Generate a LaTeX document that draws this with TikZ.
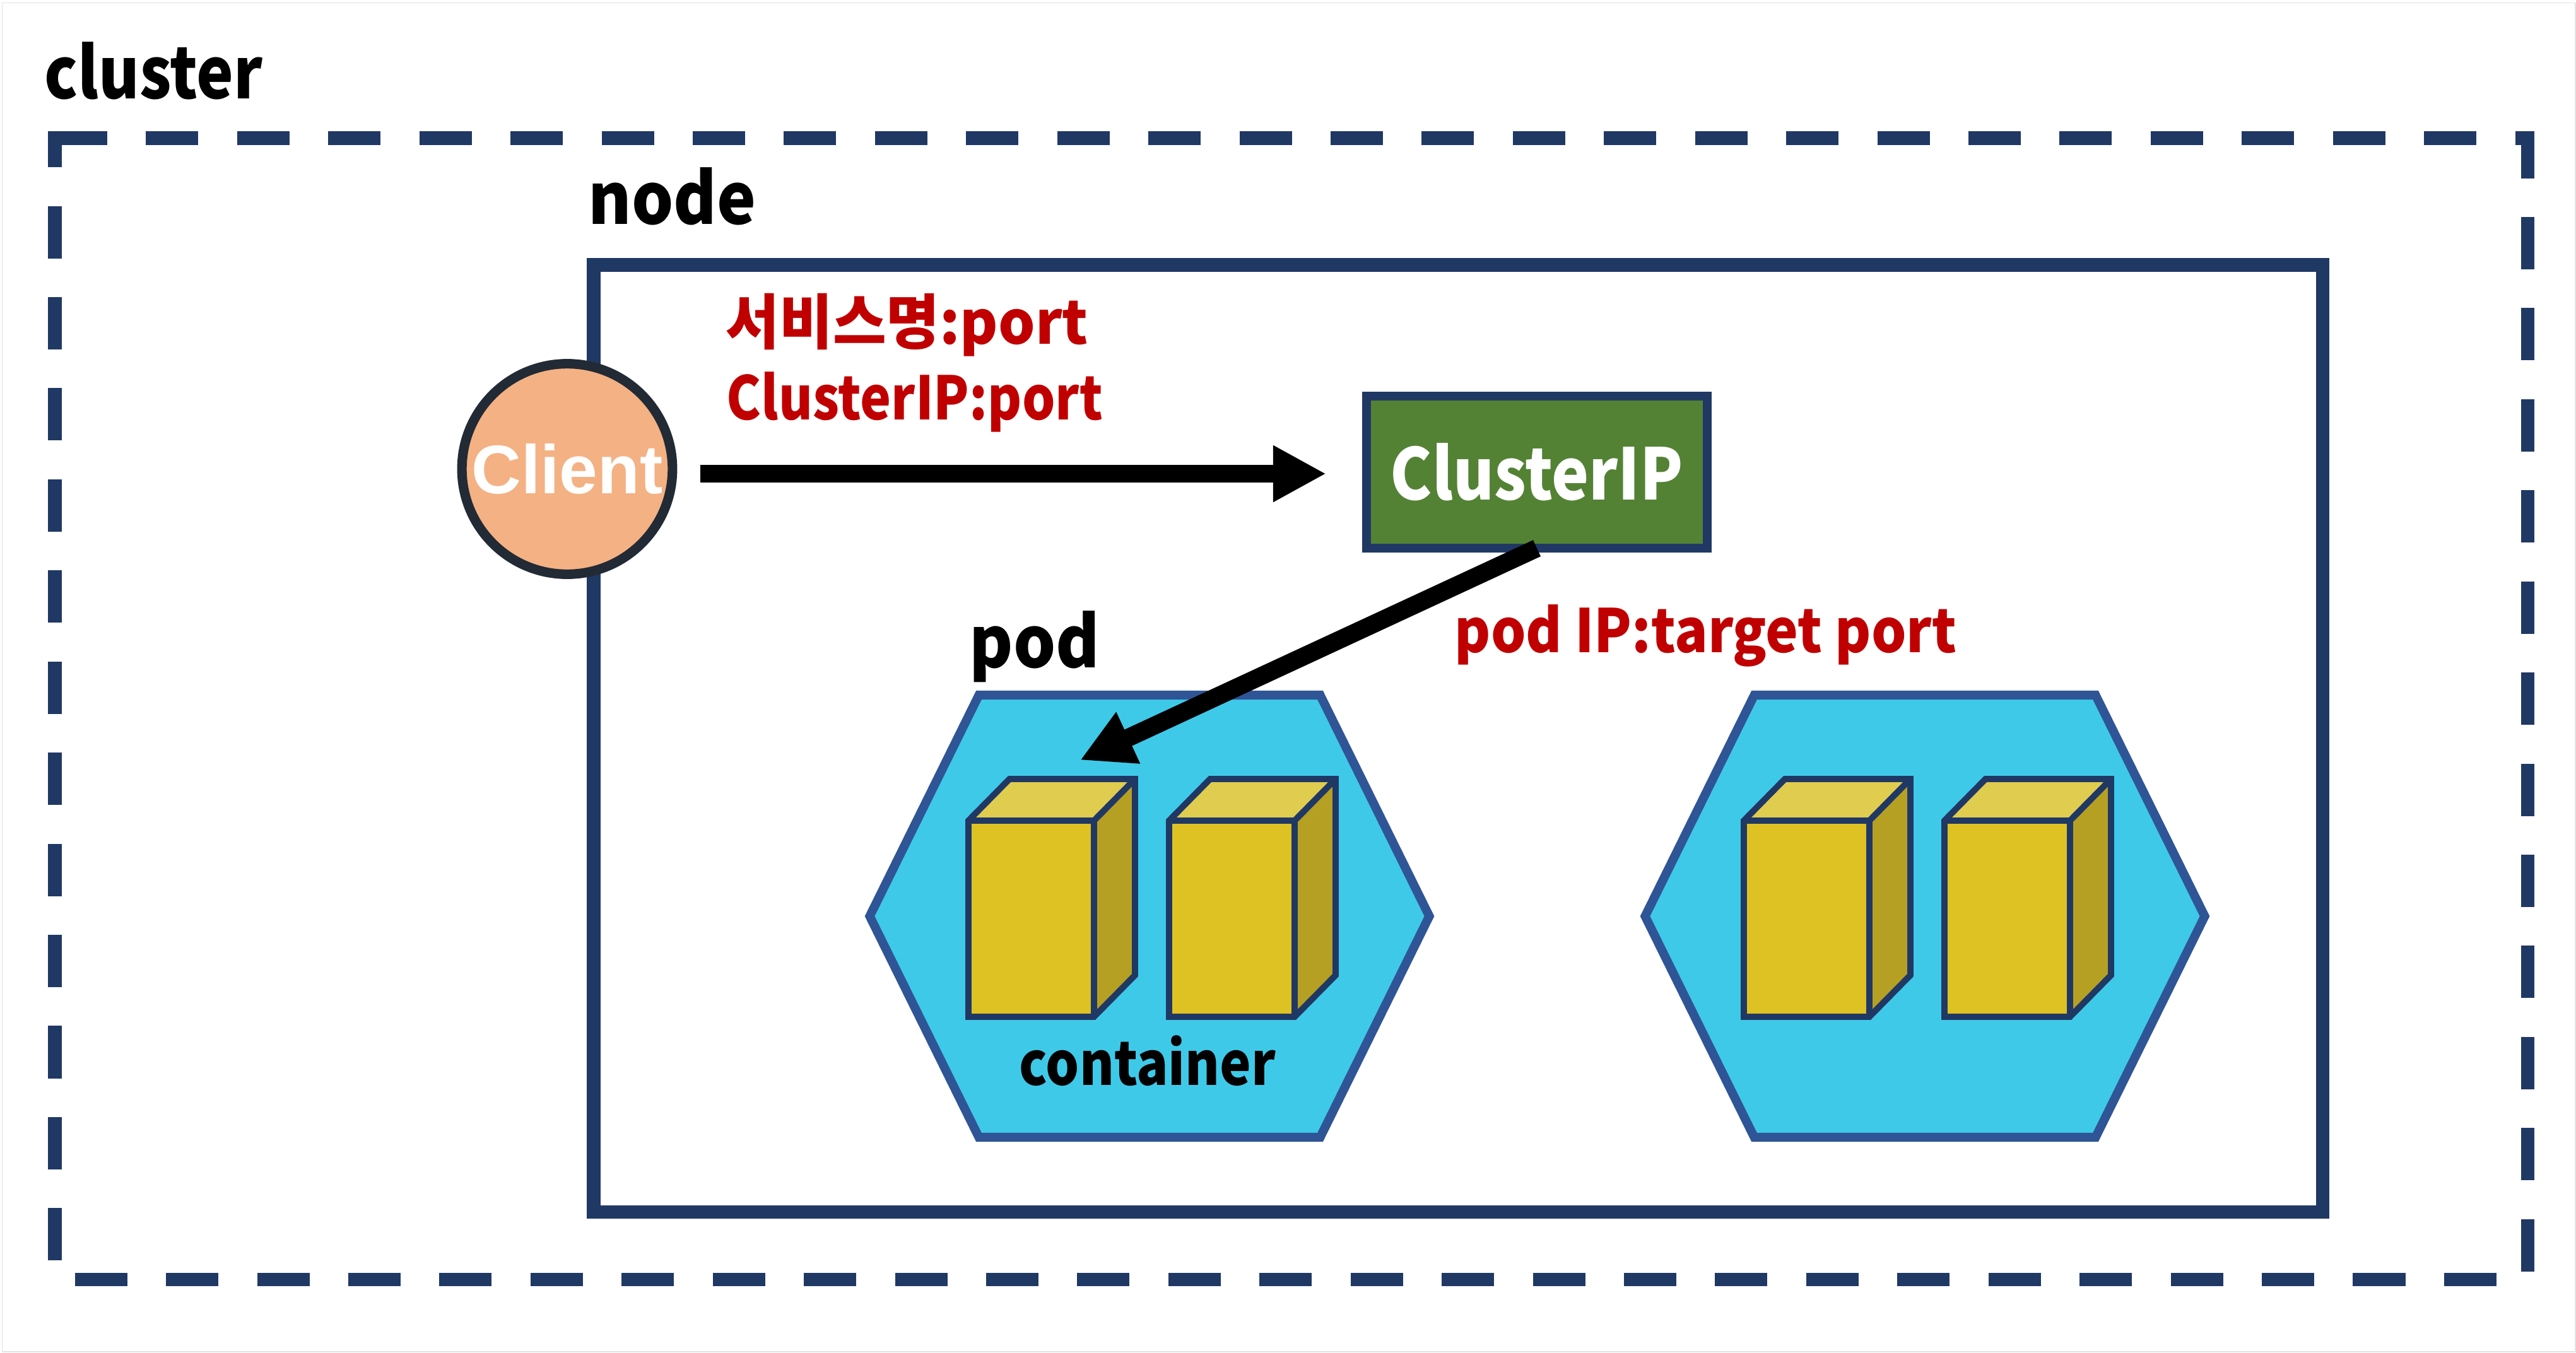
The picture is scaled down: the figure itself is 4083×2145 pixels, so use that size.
\documentclass[tikz,border=0pt]{standalone}
\usepackage{fontspec}
\setmainfont{Noto Sans CJK KR}
\newfontfamily\clientfont{Liberation Sans}
\usetikzlibrary{arrows.meta}

\definecolor{navyline}{HTML}{203864}
\definecolor{podline}{HTML}{2F5597}
\definecolor{podfill}{HTML}{3FC9E8}
\definecolor{boxfront}{HTML}{DEC123}
\definecolor{boxtop}{HTML}{E0CC4F}
\definecolor{boxside}{HTML}{B5A024}
\definecolor{redtext}{HTML}{C00000}
\definecolor{clientfill}{HTML}{F4B183}
\definecolor{clientline}{HTML}{222A35}
\definecolor{ipfill}{HTML}{548235}

\tikzset{
  bigtext/.style={anchor=base west,inner sep=0pt,font=\bfseries\fontsize{32}{36}\selectfont\addfontfeature{FakeStretch=#1}},
  midtext/.style={anchor=base west,inner sep=0pt,font=\bfseries\fontsize{27}{31}\selectfont\addfontfeature{FakeStretch=#1}},
  redlabel/.style={midtext=#1,text=redtext},
  flow/.style={line width=8.1pt,-{Triangle[length=23.9pt,width=23.9pt]}},
  boxedge/.style={draw=navyline,line width=2.8pt,line join=miter}
}

\newcommand{\containerbox}[1]{
\begin{scope}[shift={(#1,0)}]
\fill[boxfront] (1535,1301) rectangle (1734,1612);
\fill[boxtop] (1535,1301)--(1600,1235)--(1799,1235)--(1734,1301)--cycle;
\fill[boxside] (1734,1301)--(1799,1235)--(1799,1546)--(1734,1612)--cycle;
\draw[boxedge] (1535,1301)--(1600,1235)--(1799,1235)--(1799,1546)--(1734,1612)--(1535,1612)--cycle;
\draw[boxedge] (1535,1301)--(1734,1301)--(1799,1235);
\draw[boxedge] (1734,1301)--(1734,1612);
\end{scope}
}

\newcommand{\podshape}[1]{
\begin{scope}[shift={(#1,0)}]
\draw[draw=podline,fill=podfill,line width=4pt,line join=miter] (1378.5,1452.5)--(1551.5,1102)--(2092.5,1102)--(2265.5,1452.5)--(2092.5,1803)--(1551.5,1803)--cycle;
\end{scope}
}

\begin{document}
\begin{tikzpicture}[x=0.01cm,y=-0.01cm]
\useasboundingbox (0,0) rectangle (4083,2145);
\draw[color=black!11,line width=0.5pt] (3.5,4.5) rectangle (4082,2143);

\draw[navyline,line width=5.98pt,dash pattern=on 23.62pt off 17.45pt,dash phase=9.39pt] (120,219)--(4006,219)--(4006,2028)--(87,2028)--(87,219)--(120,219);
\draw[navyline,line width=5.98pt] (941,420) rectangle (3681,1921);

\podshape{0}
\podshape{1229}
\containerbox{0}
\containerbox{318}
\containerbox{1229}
\containerbox{1547}

\node[circle,draw=clientline,fill=clientfill,inner sep=0pt,minimum size=94.9pt,outer sep=0pt,line width=4.3pt,text=white,font=\clientfont\bfseries\fontsize{31}{36}\selectfont] (client) at (899,743.5) {Client};
\node[rectangle,draw=navyline,fill=ipfill,inner sep=0pt,outer sep=0pt,minimum width=153.6pt,minimum height=68.6pt,line width=4pt,text=white,font=\bfseries\fontsize{32}{37}\selectfont\addfontfeature{FakeStretch=0.885}] (clusterip) at (2436,748.5) {ClusterIP};

\coordinate (flowline) at (0,751);
\coordinate (podentry) at (1712,1205);
\draw[flow,shorten <=12.5pt,shorten >=18.2pt] (client.east |- flowline) -- (clusterip.west |- flowline);
\draw[flow] (clusterip.south) -- (podentry);

\node[bigtext=0.88] (clusterlabel) at (70,156) {cluster};
\node[bigtext=0.927] (nodelabel) at (932,355) {node};
\node[bigtext=0.94] (podlabel) at (1536,1058) {pod};
\node[midtext=0.88] (containerlabel) at (1615,1720) {container};
\node[redlabel=0.97] (servicelabel) at (1150,545) {서비스명:port};
\node[redlabel=0.87] (iplabel) at (1151,665) {ClusterIP:port};
\node[redlabel=0.92] (targetlabel) at (2305,1034) {pod IP:target port};
\end{tikzpicture}
\end{document}
